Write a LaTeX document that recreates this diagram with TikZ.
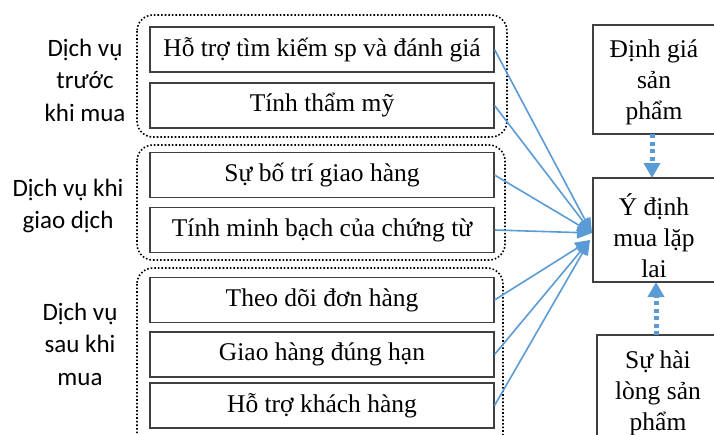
\documentclass[tikz,border=0pt]{standalone}
\usepackage{fontspec}
\setmainfont{Liberation Serif}
\newfontfamily\labfont{Carlito}
\usetikzlibrary{arrows.meta}
\definecolor{ablue}{HTML}{5B9BD5}
\definecolor{bgray}{HTML}{404040}
\tikzset{
  fbox/.style={draw=bgray,line width=1.1pt,minimum width=344pt,minimum height=45pt,inner sep=0pt,font=\fontsize{25.5}{29}\selectfont},
  rbox/.style={draw=bgray,line width=1.1pt,inner sep=0pt,font=\fontsize{25.5}{31}\selectfont},
  grp/.style={draw=black,line width=1.6pt,dotted,rounded corners=16pt},
  lab/.style={align=center,font=\labfont\fontsize{25}{32.5}\selectfont},
  conn/.style={draw=ablue,line width=1.6pt,-{Triangle[length=15pt,width=12pt]}},
  dconn/.style={draw=ablue,line width=5pt,dash pattern=on 4pt off 3.5pt,-{Triangle[length=15pt,width=16pt]}},
}
\begin{document}
\begin{tikzpicture}[x=1pt,y=-1pt]
\useasboundingbox (0,0) rectangle (714,434);
% groups
\draw[grp] (137,15) rectangle (507,137);
\draw[grp] (137,145) rectangle (505,260);
\draw[grp] (137,268) rectangle (503,450);
% left labels
\node[lab] (l1) at (85,80) {Dịch vụ\\trước\\khi mua};
\node[lab] (l2) at (68,206) {Dịch vụ khi\\giao dịch};
\node[lab] (l3) at (80,344) {Dịch vụ\\sau khi\\mua};
% boxes
\node[fbox] (b1) at (322,49.5) {Hỗ trợ tìm kiếm sp và đánh giá};
\node[fbox] (b2) at (322,105.5) {Tính thẩm mỹ};
\node[fbox] (b3) at (322,175) {Sự bố trí giao hàng};
\node[fbox] (b4) at (322,230) {Tính minh bạch của chứng từ};
\node[fbox] (b5) at (322,300) {Theo dõi đơn hàng};
\node[fbox] (b6) at (322,354.5) {Giao hàng đúng hạn};
\node[fbox] (b7) at (322,405.5) {Hỗ trợ khách hàng};
% right boxes
\draw[draw=bgray,line width=1.1pt] (720,25) -- (593,25) -- (593,134) -- (720,134);
\node[rbox,draw=none,align=center] (dg) at (654,82) {Định giá\\sản\\phẩm};
\draw[draw=bgray,line width=1.1pt] (720,178) -- (593,178) -- (593,282) -- (720,282);
\node[rbox,draw=none,align=center] (yd) at (654,236) {Ý định\\mua lặp\\lai};
\draw[draw=bgray,line width=1.1pt] (720,335) -- (597,335) -- (597,440);
\node[rbox,draw=none,align=center] (sh) at (658,393) {Sự hài\\lòng sản\\phẩm};
\coordinate (ta) at (592,233);
\coordinate (tb) at (590,240);
\coordinate (dgb) at (652,134);
\coordinate (ydt) at (652,178);
\coordinate (ydb) at (656,282);
\coordinate (sht) at (656,335);
% connectors
\foreach \b in {b1,b2,b3,b4} \draw[conn] (\b.east) -- (ta);
\foreach \b in {b5,b6,b7} \draw[conn] (\b.east) -- (tb);
\draw[dconn] (dgb) -- (ydt);
\draw[dconn] (sht) -- (ydb);
\end{tikzpicture}
\end{document}
